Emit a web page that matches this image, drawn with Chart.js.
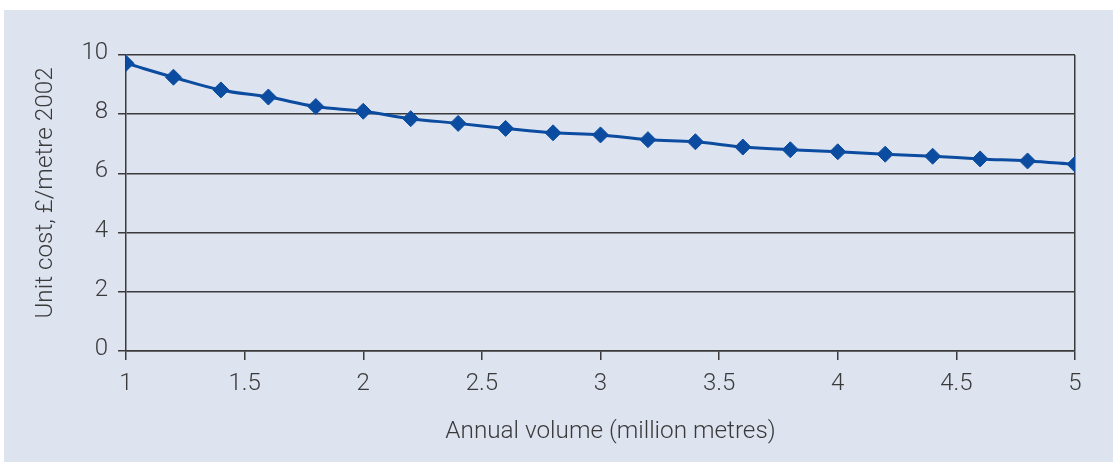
<!DOCTYPE html>
<html>

<head>
    <script src="https://cdn.jsdelivr.net/npm/chart.js"></script>
    <title>Unit cost vs annual volume</title>
    <style>
        body { margin: 0; background: #ffffff; }
        .panel { position: absolute; left: 4px; top: 10px; width: 1109px; height: 452px; background: #dee3f0; }
    </style>
</head>

<body>
    <div class="panel">
        <canvas id="costChart" width="1109" height="452"></canvas>
    </div>

    <script>
        // annual volume, million metres
        const volumes = [1.0, 1.2, 1.4, 1.6, 1.8, 2.0, 2.2, 2.4, 2.6, 2.8, 3.0,
                         3.2, 3.4, 3.6, 3.8, 4.0, 4.2, 4.4, 4.6, 4.8, 5.0];
        // unit cost, £/metre (2002 prices)
        const unitCosts = [9.72, 9.25, 8.82, 8.58, 8.26, 8.10, 7.85, 7.69, 7.52, 7.37, 7.30,
                           7.14, 7.07, 6.89, 6.80, 6.73, 6.65, 6.58, 6.49, 6.42, 6.31];
        const xTitle = 'Annual volume (million metres)';
        const yTitle = 'Unit cost, £/metre 2002';

        const ink = '#3a3a3a';
        const lineColor = '#0b4ca0';
        const fontFamily = "Roboto, 'Liberation Sans', sans-serif";

        // axis titles drawn by hand so they can sit where the original has them
        const axisTitles = {
            id: 'axisTitles',
            afterDraw(chart) {
                const ctx = chart.ctx;
                const area = chart.chartArea;
                ctx.save();
                ctx.fillStyle = ink;
                ctx.font = '300 24.3px ' + fontFamily;
                ctx.textAlign = 'center';
                ctx.textBaseline = 'middle';
                ctx.fillText(xTitle, (area.left + area.right) / 2 + 10, 422);
                ctx.translate(42, (area.top + area.bottom) / 2 - 10);
                ctx.rotate(-Math.PI / 2);
                ctx.fillText(yTitle, 0, 0);
                ctx.restore();
            }
        };

        new Chart(document.getElementById('costChart'), {
            type: 'line',
            data: {
                datasets: [{
                    data: volumes.map((v, i) => ({ x: v, y: unitCosts[i] })),
                    borderColor: lineColor,
                    backgroundColor: lineColor,
                    borderWidth: 3,
                    tension: 0.4,
                    pointStyle: 'rectRot',
                    pointRadius: 8,
                    pointBorderWidth: 1,
                    pointBorderColor: lineColor,
                    pointBackgroundColor: lineColor
                }]
            },
            options: {
                responsive: false,
                animation: false,
                layout: { padding: { left: 0, right: 38, top: 45, bottom: 0 } },
                plugins: {
                    legend: { display: false },
                    tooltip: { enabled: false }
                },
                scales: {
                    x: {
                        type: 'linear',
                        min: 1,
                        max: 5,
                        afterFit: scale => { scale.height = 111; },
                        grid: {
                            color: ctx => (ctx.tick && ctx.tick.value === 5) ? ink : 'rgba(0,0,0,0)',
                            tickColor: ink,
                            lineWidth: 1.5,
                            tickLength: 9
                        },
                        border: { display: true, color: ink, width: 1.5 },
                        ticks: {
                            stepSize: 0.5,
                            color: ink,
                            padding: 10,
                            maxRotation: 0,
                            callback: value => String(value),
                            font: { family: fontFamily, size: 24, weight: 300 }
                        }
                    },
                    y: {
                        min: 0,
                        max: 10,
                        afterFit: scale => { scale.width = 122; },
                        grid: {
                            color: ink,
                            lineWidth: 1.5,
                            tickLength: 8
                        },
                        border: { display: true, color: ink, width: 1.5 },
                        ticks: {
                            stepSize: 2,
                            color: ink,
                            padding: 10,
                            labelOffset: -2,
                            font: { family: fontFamily, size: 24, weight: 300 }
                        }
                    }
                }
            },
            plugins: [axisTitles]
        });
    </script>
</body>

</html>
